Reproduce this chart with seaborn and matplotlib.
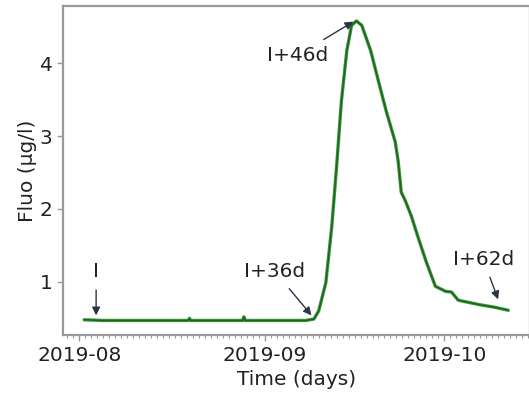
import numpy as np
import pandas as pd
import matplotlib
matplotlib.use("Agg")
import matplotlib.pyplot as plt
import matplotlib.dates as mdates
import seaborn as sns

start_date = "2019-08-01"
day_offsets = [0.8, 4.0, 8.0, 12.0, 16.0, 18.2, 18.4, 18.6, 22.0, 27.3, 27.5, 27.7,
               32.0, 36.0, 37.8, 39.2, 40.0, 41.2, 42.2, 43.0, 43.8, 44.7, 45.5,
               46.3, 47.2, 48.7, 50.0, 51.3, 52.8, 53.3, 53.8, 54.5, 55.5, 56.7,
               58.0, 59.5, 61.2, 62.2, 63.3, 63.8, 66.7, 69.5, 71.7]
fluo = [0.48, 0.47, 0.47, 0.47, 0.47, 0.47, 0.50, 0.47, 0.47, 0.47, 0.52, 0.47,
        0.47, 0.47, 0.47, 0.49, 0.60, 0.99, 1.77, 2.59, 3.48, 4.17, 4.52,
        4.58, 4.52, 4.17, 3.75, 3.34, 2.92, 2.65, 2.23, 2.11, 1.90, 1.59,
        1.27, 0.94, 0.87, 0.86, 0.75, 0.74, 0.69, 0.65, 0.61]

ann_labels = ["I", "I+36d", "I+46d", "I+62d"]
ann_tip_day = [2.8, 38.8, 45.8, 70.0]
ann_tip_val = [0.54, 0.54, 4.57, 0.76]
ann_text_day = [2.8, 32.7, 36.5, 67.5]
ann_text_val = [1.14, 1.14, 4.11, 1.31]

base = pd.Timestamp(start_date)
df = pd.DataFrame({
    "time": base + pd.to_timedelta(day_offsets, unit="D"),
    "fluo": fluo,
})

sns.set_style("ticks")
plt.rcParams["font.family"] = ["DejaVu Sans"]

FS = 14.5
fig = plt.figure(figsize=(5.29, 3.97), dpi=100)
ax = fig.add_axes([0.119, 0.155, 0.882, 0.83])

sns.lineplot(data=df, x="time", y="fluo", ax=ax, color="#3a9a3a", lw=2.4)
sns.lineplot(data=df, x="time", y="fluo", ax=ax, color="#1f5f1f", lw=1.0)

for lab, td, tv, xd, xv in zip(ann_labels, ann_tip_day, ann_tip_val, ann_text_day, ann_text_val):
    ax.annotate(lab,
                xy=(base + pd.Timedelta(days=td), tv),
                xytext=(base + pd.Timedelta(days=xd), xv),
                ha="center", va="center", fontsize=FS, color="#222222",
                arrowprops=dict(arrowstyle="-|>", color="#2a3444", lw=1.0,
                                mutation_scale=12, shrinkA=4, shrinkB=0))

ax.xaxis.set_major_locator(mdates.MonthLocator())
ax.xaxis.set_major_formatter(mdates.DateFormatter("%Y-%m"))
ax.xaxis.set_minor_locator(mdates.DayLocator())
ax.set_yticks([1, 2, 3, 4])
ax.tick_params(axis="both", which="major", labelsize=FS, colors="#999999",
               labelcolor="#222222", length=4, width=1)
ax.tick_params(axis="x", which="minor", length=2.5, width=0.8, colors="#999999")

ax.set_xlabel("Time (days)", fontsize=FS, color="#222222", labelpad=4)
ax.set_ylabel("Fluo (µg/l)", fontsize=FS, color="#222222", labelpad=2)

for s in ax.spines.values():
    s.set_color("#999999")
    s.set_linewidth(1.6)

fig.savefig("out.png", dpi=100)
